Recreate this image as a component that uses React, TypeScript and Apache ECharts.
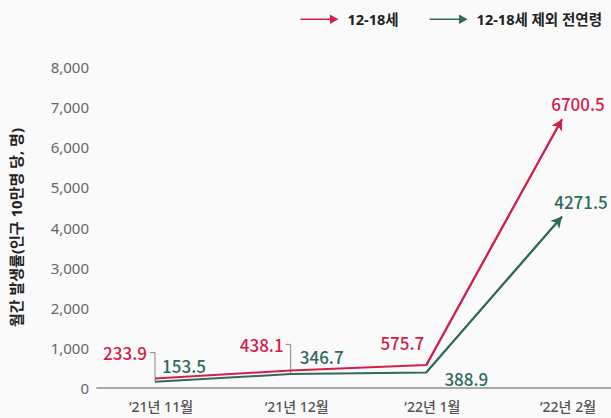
import React, { useEffect, useRef } from "react";
import * as echarts from "echarts";

const categories = ["\u201821년 11월", "\u201821년 12월", "\u201822년 1월", "\u201822년 2월"];
const teenValues = [233.9, 438.1, 575.7, 6700.5];
const allAgeValues = [153.5, 346.7, 388.9, 4271.5];
const seriesNames = ["12-18세", "12-18세 제외 전연령"];
const yTicks = [0, 1000, 2000, 3000, 4000, 5000, 6000, 7000, 8000];

const RED = "#d3204a";
const GREEN = "#2f6b5c";
const FONT = "'Noto Sans', 'Noto Sans CJK KR', sans-serif";
const LABEL_FONT = "'Noto Sans CJK KR', sans-serif";

const teenOffsets = [[-30, -18], [-29, -17], [-24, -14], [16, -7]];
const allOffsets = [[29, -8], [31, -9], [40, 15], [19, -7]];
const bracketIdx = [0, 1];

export default function App() {
  const ref = useRef<HTMLDivElement>(null);
  useEffect(() => {
    if (!ref.current) return;
    const chart = echarts.init(ref.current, null, { renderer: "svg" });
    const arrowIcon = "path://M0,4.2 L31,4.2 L31,0 L40,5 L31,10 L31,5.8 L0,5.8 Z";
    const mkData = (vals: number[], offs: number[][], color: string) =>
      vals.map((v, i) => ({
        value: v,
        label: {
          show: true,
          position: "top",
          distance: 0,
          offset: offs[i],
          color,
          fontSize: 17,
          fontWeight: 500,
          fontFamily: LABEL_FONT,
          formatter: v.toFixed(1),
        },
      }));
    const mkArrow = (vals: number[], color: string) => ({
      silent: true,
      symbol: ["none", "arrow"],
      symbolSize: [9, 11],
      label: { show: false },
      lineStyle: { color, width: 2, type: "solid" },
      emphasis: { disabled: true },
      data: [[{ coord: [2, vals[2]] }, { coord: [3, vals[3]] }]],
    });
    chart.setOption({
      animation: false,
      backgroundColor: "#fafafa",
      textStyle: { fontFamily: FONT },
      legend: {
        right: 4,
        top: 7,
        itemWidth: 38,
        itemHeight: 10,
        itemGap: 31,
        textStyle: { fontSize: 14.5, fontWeight: 700, color: "#222", fontFamily: FONT, padding: [0, 0, 0, 4] },
        data: seriesNames.map((n) => ({ name: n, icon: arrowIcon })),
      },
      grid: [
        { left: 154, right: 49, top: 67, bottom: 30 },
        { left: 97, right: 0, top: 67, bottom: 30 },
      ],
      xAxis: [
        {
          type: "category",
          gridIndex: 0,
          data: categories,
          boundaryGap: false,
          axisLine: { show: false },
          axisTick: { show: false },
          axisLabel: { color: "#555", fontSize: 14, fontWeight: 500, margin: 11, fontFamily: FONT, padding: [0, 0, 0, 12] },
        },
        {
          type: "value",
          gridIndex: 1,
          min: 0,
          max: 1,
          axisLine: { show: true, lineStyle: { color: "#aaa", width: 2 } },
          axisTick: { show: false },
          axisLabel: { show: false },
          splitLine: { show: false },
        },
      ],
      yAxis: [
        {
          type: "value",
          gridIndex: 0,
          min: yTicks[0],
          max: yTicks[yTicks.length - 1],
          interval: 1000,
          axisLine: { show: false },
          axisTick: { show: false },
          splitLine: { show: false },
          axisLabel: { color: "#666", fontSize: 15, margin: 66, fontFamily: FONT },
          name: "월간 발생률(인구 10만명 당, 명)",
          nameLocation: "middle",
          nameGap: 132,
          nameTextStyle: { fontSize: 15, fontWeight: 700, color: "#222", fontFamily: FONT },
        },
        {
          type: "value",
          gridIndex: 1,
          min: 0,
          max: 8000,
          show: false,
        },
      ],
      series: [
        {
          name: seriesNames[0],
          type: "line",
          xAxisIndex: 0,
          yAxisIndex: 0,
          symbol: "circle",
          symbolSize: 0.01,
          showSymbol: true,
          color: RED,
          lineStyle: { color: RED, width: 2 },
          data: mkData(teenValues, teenOffsets, RED),
          markLine: mkArrow(teenValues, RED),
          z: 3,
        },
        {
          name: seriesNames[1],
          type: "line",
          xAxisIndex: 0,
          yAxisIndex: 0,
          symbol: "circle",
          symbolSize: 0.01,
          showSymbol: true,
          color: GREEN,
          lineStyle: { color: GREEN, width: 2 },
          data: mkData(allAgeValues, allOffsets, GREEN),
          markLine: mkArrow(allAgeValues, GREEN),
          z: 2,
        },
      ],
    });
    const graphics = bracketIdx.map((i) => {
      const top = chart.convertToPixel({ seriesIndex: 0 }, [i, teenValues[i]]) as number[];
      const bot = chart.convertToPixel({ seriesIndex: 1 }, [i, allAgeValues[i]]) as number[];
      const yTop = top[1] - 26;
      return {
        type: "polyline",
        silent: true,
        shape: { points: [[top[0] - 5, yTop], [top[0], yTop], [top[0], bot[1]]] },
        style: { stroke: "#888", lineWidth: 1, fill: "none" },
        z: 1,
      };
    });
    chart.setOption({ graphic: graphics });
    return () => chart.dispose();
  }, []);
  return (
    <div
      ref={ref}
      style={{ position: "fixed", left: 0, top: 0, width: 611, height: 418 }}
    />
  );
}
